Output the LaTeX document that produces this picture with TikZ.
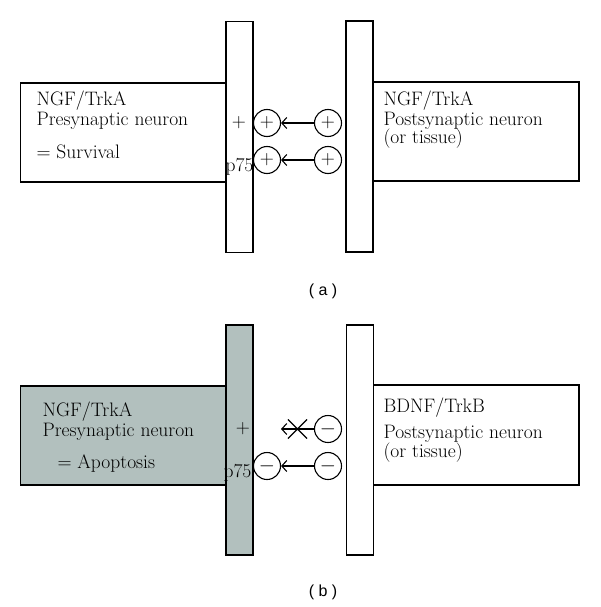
\documentclass[tikz,border=0pt]{standalone}
\usepackage{fontspec}
\newfontfamily\capfont{Liberation Sans}
\usetikzlibrary{arrows.meta,shapes.misc}
\definecolor{cellgray}{RGB}{178,192,190}

\begin{document}
\begin{tikzpicture}[x=1pt,y=-1pt,
  line width=1.1pt,
  font=\fontsize{19.5}{21}\selectfont,
  cellbox/.style={draw,inner sep=0,minimum width=206,minimum height=99},
  memb/.style={draw,fill=white,inner sep=0,minimum width=27,minimum height=231},
  sig/.style={draw,circle,fill=white,inner sep=0,minimum size=27},
  txt/.style={anchor=base west,inner sep=0},
  arr/.style={-{Straight Barb[length=5pt,width=11pt]},line width=1.1pt},
  tag/.style={font=\capfont\fontsize{16}{16}\selectfont}
]
  \useasboundingbox (0,0) rectangle (600,607);

  % (a) NGF/TrkA on both sides
  \node[cellbox] (preA) at (123.5,132.5) {};
  \node[cellbox] (postA) at (476,131.5) {};
  \node[memb] (mpreA) at (239.5,137) {};
  \node[memb] (mpostA) at (359.5,136.5) {};
  \node[txt] (preA1) at (36,106) {NGF/TrkA};
  \node[txt] (preA2) at (36,125) {Presynaptic neuron};
  \node[txt] (preA3) at (36,158) {= Survival};
  \node[txt] (postA1) at (383,106) {NGF/TrkA};
  \node[txt] (postA2) at (383,125) {Postsynaptic neuron};
  \node[txt] (postA3) at (383,143) {(or tissue)};
  \node (plusA) at (239,123) {+};
  \node[txt] (pA) at (225,171) {p75};
  \node[sig] (aL1) at (267,123) {+};
  \node[sig] (aL2) at (267,160) {+};
  \node[sig] (aR1) at (328,123) {+};
  \node[sig] (aR2) at (328,160) {+};
  \foreach \a/\b in {aR1/aL1,aR2/aL2}
    \draw[arr] (\a) -- (\b);
  \node[tag] (capA) at (323,291) {( a )};

  % (b) BDNF/TrkB target
  \node[cellbox,fill=cellgray] (preB) at (123.5,435.5) {};
  \node[cellbox,minimum height=100] (postB) at (476,435) {};
  \node[memb,fill=cellgray,minimum height=230] (mpreB) at (239.5,440) {};
  \node[memb,minimum height=230] (mpostB) at (360,440) {};
  \node[txt] (preB1) at (42,416) {NGF/TrkA};
  \node[txt] (preB2) at (42,436) {Presynaptic neuron};
  \node[txt] (preB3) at (57,468) {= Apoptosis};
  \node[txt] (postB1) at (383,412) {BDNF/TrkB};
  \node[txt] (postB2) at (383,438) {Postsynaptic neuron};
  \node[txt] (postB3) at (383,457) {(or tissue)};
  \node (plusB) at (243,429) {+};
  \node[txt] (pB) at (223,477) {p75};
  \node[sig] (bL2) at (267,466) {$-$};
  \node[sig] (bR1) at (328,429) {$-$};
  \node[sig] (bR2) at (328,466) {$-$};
  \coordinate (tipB) at (281,429);
  \draw[arr] (bR1) -- (tipB);
  \draw[arr] (bR2) -- (bL2);
  \node[cross out,draw,inner sep=0,minimum size=18] (blockB) at (297.5,429) {};
  \node[tag] (capB) at (323,592) {( b )};
\end{tikzpicture}
\end{document}
